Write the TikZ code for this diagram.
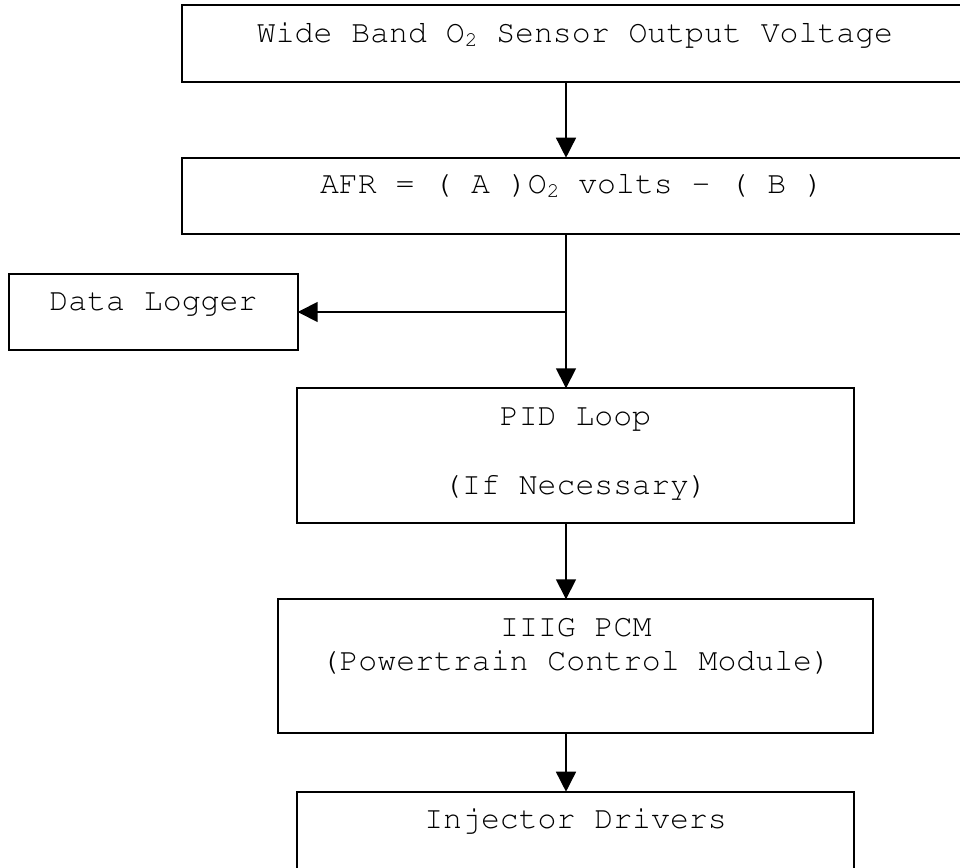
\documentclass[tikz,border=0pt]{standalone}
\usepackage[T1]{fontenc}
\usepackage{courier}
\renewcommand{\familydefault}{\ttdefault}
\usetikzlibrary{arrows.meta}
\newcommand{\subtwo}{{\fontsize{21}{21}\selectfont\raisebox{-4pt}{2}}}
\tikzset{
  box/.style={draw, line width=1.7pt, inner sep=0pt, outer sep=0pt},
  txt/.style={anchor=base, inner sep=0pt, outer sep=0pt, font=\fontsize{31.5}{34.7}\selectfont},
  arr/.style={line width=1.5pt, -{Triangle[length=20pt,width=20pt]}}
}
\begin{document}
\begin{tikzpicture}[x=1pt, y=-1pt]
\useasboundingbox (0,0) rectangle (960,867);
% boxes
\node[box, minimum width=784.3pt, minimum height=77pt] (sensor) at (573.85,43.5) {};
\node[box, minimum width=784.3pt, minimum height=76.6pt] (afr) at (573.85,196) {};
\node[box, minimum width=288.7pt, minimum height=76pt] (logger) at (153.35,312) {};
\node[box, minimum width=557.6pt, minimum height=134.4pt] (pid) at (575.5,455.5) {};
\node[box, minimum width=595pt, minimum height=134pt] (pcm) at (575.8,666.3) {};
\node[box, minimum width=557.6pt, minimum height=134pt] (inj) at (575.5,858.7) {};
% texts
\node[txt] (tsensor) at (575,42) {Wide Band O\subtwo{} Sensor Output Voltage};
\node[txt] (tafr) at (572,193.3) {AFR = ( A )O\subtwo{} volts \textendash{} ( B )};
\node[txt] (tlogger) at (153.4,310.7) {Data Logger};
\node[txt] (tpid1) at (575.5,425) {PID Loop};
\node[txt] (tpid2) at (575.5,494.3) {(If Necessary)};
\node[txt] (tpcm1) at (575.8,636) {IIIG PCM};
\node[txt] (tpcm2) at (575.8,670.7) {(Powertrain Control Module)};
\node[txt] (tinj) at (575.5,828.3) {Injector Drivers};
% connectors
\coordinate (xl) at (566,0);
\coordinate (branch) at (xl |- logger.east);
\draw[arr] (sensor.south -| xl) -- (afr.north -| xl);
\draw[arr] (afr.south -| xl) -- (pid.north -| xl);
\draw[arr] (branch) -- (logger.east);
\draw[arr] (pid.south -| xl) -- (pcm.north -| xl);
\draw[arr] (pcm.south -| xl) -- (inj.north -| xl);
\end{tikzpicture}
\end{document}
